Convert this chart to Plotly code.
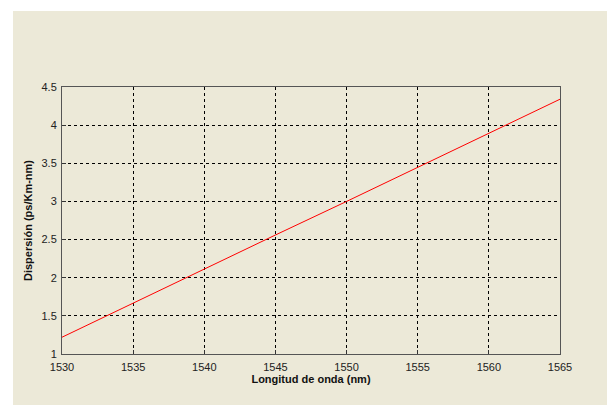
import plotly.graph_objects as go

wavelength_nm = [1530, 1535, 1540, 1545, 1550, 1555, 1560, 1565]
dispersion = [1.22, 1.67, 2.12, 2.56, 3.00, 3.45, 3.90, 4.34]
x_ticks = [1530, 1535, 1540, 1545, 1550, 1555, 1560, 1565]
y_ticks = [1, 1.5, 2, 2.5, 3, 3.5, 4, 4.5]
y_tick_text = ["1", "1.5", "2", "2.5", "3", "3.5", "4", "4.5"]

W, H = 607, 405
L, R, T, B = 62, 47, 87, 51
pw, ph = W - L - R, H - T - B

def px(x):
    return (x - L) / pw

def py(y):
    return (H - B - y) / ph

fig = go.Figure()
fig.add_trace(go.Scatter(x=wavelength_nm, y=dispersion, mode="lines",
                         line=dict(color="#ff0000", width=1), showlegend=False))

fig.add_shape(type="rect", xref="paper", yref="paper", layer="below",
              x0=px(13), x1=px(W + 5), y0=py(H + 5), y1=py(11),
              fillcolor="#ECE9D8", line=dict(width=0))

axis_common = dict(showgrid=True, gridcolor="#000000", griddash="dot", gridwidth=1,
                   showline=True, linecolor="#555555", linewidth=1, mirror=True,
                   ticks="inside", ticklen=4, tickcolor="#333333", zeroline=False,
                   tickfont=dict(family="Liberation Sans, Arial", size=11, color="#222222"))

fig.update_xaxes(range=[1530, 1565], tickvals=x_ticks, ticklabelstandoff=3,
                 title=dict(text="<b>Longitud de onda (nm)</b>", standoff=2,
                            font=dict(family="Liberation Sans, Arial", size=11, color="#111111")),
                 **axis_common)
fig.update_yaxes(range=[1, 4.5], tickvals=y_ticks, ticktext=y_tick_text, ticklabelstandoff=2,
                 title=dict(text="<b>Dispersión (ps/Km-nm)</b>", standoff=6,
                            font=dict(family="Liberation Sans, Arial", size=11, color="#111111")),
                 **axis_common)

fig.update_layout(width=W, height=H, margin=dict(l=L, r=R, t=T, b=B),
                  paper_bgcolor="#ffffff", plot_bgcolor="#ffffff")

fig.write_html("out.html")
